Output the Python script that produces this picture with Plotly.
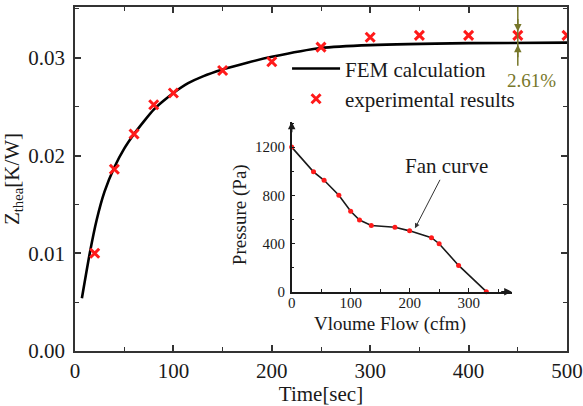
import plotly.graph_objects as go

# FEM transient thermal impedance curve
fem_t = [7, 15, 22, 30, 40, 50, 60, 70, 80, 90, 100, 115, 130, 150, 175, 200, 250, 300, 400, 500]
fem_z = [0.0054, 0.0100, 0.0134, 0.0163, 0.0188, 0.0207, 0.0222, 0.0235, 0.0247, 0.0256,
         0.0264, 0.0274, 0.0281, 0.0288, 0.0295, 0.0301, 0.0310, 0.0313, 0.03150, 0.03155]

# measured thermal impedance
exp_t = [20, 40, 60, 80, 100, 150, 200, 250, 300, 350, 400, 450, 500]
exp_z = [0.0100, 0.0186, 0.0222, 0.0252, 0.0264, 0.0287, 0.0296, 0.0311, 0.0321, 0.0323, 0.0323, 0.0323, 0.0323]

# fan curve (inset)
fan_q = [0, 37, 55, 80, 100, 115, 135, 175, 200, 237, 250, 283, 330]
fan_p = [1200, 995, 925, 800, 668, 595, 550, 535, 505, 448, 398, 218, 0]

x_ticks = [0, 100, 200, 300, 400, 500]
y_ticks = [0.00, 0.01, 0.02, 0.03]
y_tick_text = ["0.00", "0.01", "0.02", "0.03"]
inset_x_ticks = [0, 100, 200, 300]
inset_y_ticks = [0, 400, 800, 1200]

deviation_t = 450
deviation_text = "2.61%"

FONT = "Liberation Serif"
OLIVE = "#77772a"
RED = "#ff1a1a"
INK = "#1a1a1a"

fig = go.Figure()

fig.add_trace(go.Scatter(
    x=fem_t, y=fem_z, mode="lines", name="FEM calculation",
    line=dict(color="black", width=2.6, shape="spline", smoothing=0.6),
))
fig.add_trace(go.Scatter(
    x=exp_t, y=exp_z, mode="markers", name="experimental results",
    marker=dict(symbol="x-thin", size=9, color=RED, line=dict(color=RED, width=3)),
))

# inset fan curve
fig.add_trace(go.Scatter(
    x=fan_q, y=fan_p, mode="lines", xaxis="x2", yaxis="y2", showlegend=False,
    line=dict(color=INK, width=1.6),
))
fig.add_trace(go.Scatter(
    x=fan_q, y=fan_p, mode="markers", xaxis="x2", yaxis="y2", showlegend=False,
    marker=dict(color=RED, size=5), cliponaxis=False,
))

axis_common = dict(
    showline=True, linecolor="#333333", linewidth=1.6, mirror="allticks",
    ticks="inside", ticklen=6, tickwidth=1.5, tickcolor="#333333",
    showgrid=False, zeroline=False, automargin=False,
    tickfont=dict(family=FONT, size=21, color=INK),
)

fig.update_layout(
    width=583, height=406,
    margin=dict(l=75, r=16, t=7, b=55),
    plot_bgcolor="white", paper_bgcolor="white",
    font=dict(family=FONT, color=INK),
    xaxis=dict(
        range=[0, 500], tickvals=x_ticks, **axis_common,
        minor=dict(ticks="inside", ticklen=4, tickwidth=1.3, tickcolor="#333333", dtick=50),
        title=dict(text="Time[sec]", font=dict(family=FONT, size=21), standoff=8),
    ),
    yaxis=dict(
        range=[0, 0.0352], tickvals=y_ticks, ticktext=y_tick_text, **axis_common,
        ticklabelstandoff=4,
        minor=dict(ticks="inside", ticklen=4, tickwidth=1.3, tickcolor="#333333", dtick=0.005),
        title=dict(text="Z<sub>thea</sub>[K/W]", font=dict(family=FONT, size=21), standoff=8),
    ),
    xaxis2=dict(
        domain=[0.4404, 0.8876], anchor="y2", range=[0, 373],
        showline=True, linecolor=INK, linewidth=1.5, automargin=False,
        ticks="inside", ticklen=4, tickwidth=1.2, tickcolor=INK,
        tickvals=inset_x_ticks, showgrid=False, zeroline=False,
        ticklabelstandoff=-3,
        minor=dict(ticks="inside", ticklen=3, tickwidth=1, tickcolor=INK, dtick=50),
        tickfont=dict(family=FONT, size=15, color=INK),
    ),
    yaxis2=dict(
        domain=[0.1724, 0.6666], anchor="x2", range=[0, 1411],
        showline=True, linecolor=INK, linewidth=1.5, automargin=False,
        ticks="inside", ticklen=4, tickwidth=1.2, tickcolor=INK,
        tickvals=inset_y_ticks, showgrid=False, zeroline=False,
        ticklabelstandoff=2,
        minor=dict(ticks="inside", ticklen=3, tickwidth=1, tickcolor=INK, dtick=200),
        tickfont=dict(family=FONT, size=15, color=INK),
    ),
    legend=dict(
        x=0.431, y=0.88, xanchor="left", yanchor="top",
        bgcolor="rgba(0,0,0,0)", borderwidth=0,
        font=dict(family=FONT, size=21, color=INK),
        itemwidth=48, tracegroupgap=0,
    ),
    showlegend=True,
)

# deviation marker between measured plateau and FEM plateau
fig.add_shape(type="line", xref="x", yref="y", x0=deviation_t, x1=deviation_t,
              y0=0.0352, y1=0.0292, line=dict(color=OLIVE, width=1.5))
fig.add_annotation(x=deviation_t, y=exp_z[exp_t.index(deviation_t)] + 0.0004, xref="x", yref="y",
                   ax=0, ay=-14, showarrow=True, arrowhead=2, arrowsize=1, arrowwidth=1.5,
                   arrowcolor=OLIVE, text="")
fig.add_annotation(x=deviation_t, y=fem_z[-1] - 0.0002, xref="x", yref="y",
                   ax=0, ay=14, showarrow=True, arrowhead=2, arrowsize=1, arrowwidth=1.5,
                   arrowcolor=OLIVE, text="")
fig.add_annotation(x=deviation_t + 14, y=0.0277, xref="x", yref="y", showarrow=False,
                   xanchor="center", yanchor="middle",
                   text=deviation_text, font=dict(family=FONT, size=19, color=OLIVE))

# inset labels
fig.add_annotation(x=209, y=526, xref="x2", yref="y2", ax=32, ay=-62,
                   text="Fan curve", showarrow=True, arrowhead=2, arrowsize=1,
                   arrowwidth=1, arrowcolor="#333333",
                   font=dict(family=FONT, size=21, color=INK))
fig.add_annotation(x=0.3354, y=0.395, xref="paper", yref="paper", showarrow=False,
                   xanchor="center", yanchor="middle",
                   text="Pressure (Pa)", textangle=-90,
                   font=dict(family=FONT, size=19, color=INK))
fig.add_annotation(x=0.640, y=0.078, xref="paper", yref="paper", showarrow=False,
                   xanchor="center", yanchor="middle",
                   text="Vloume Flow (cfm)",
                   font=dict(family=FONT, size=19, color=INK))

# arrowheads at the ends of the inset axes
fig.add_annotation(x=0, y=1411, xref="x2", yref="y2", ax=0, ay=12, text="",
                   showarrow=True, arrowhead=2, arrowsize=1, arrowwidth=1.5, arrowcolor=INK)
fig.add_annotation(x=373, y=0, xref="x2", yref="y2", ax=-12, ay=0, text="",
                   showarrow=True, arrowhead=2, arrowsize=1, arrowwidth=1.5, arrowcolor=INK)

fig.write_html("out.html")
